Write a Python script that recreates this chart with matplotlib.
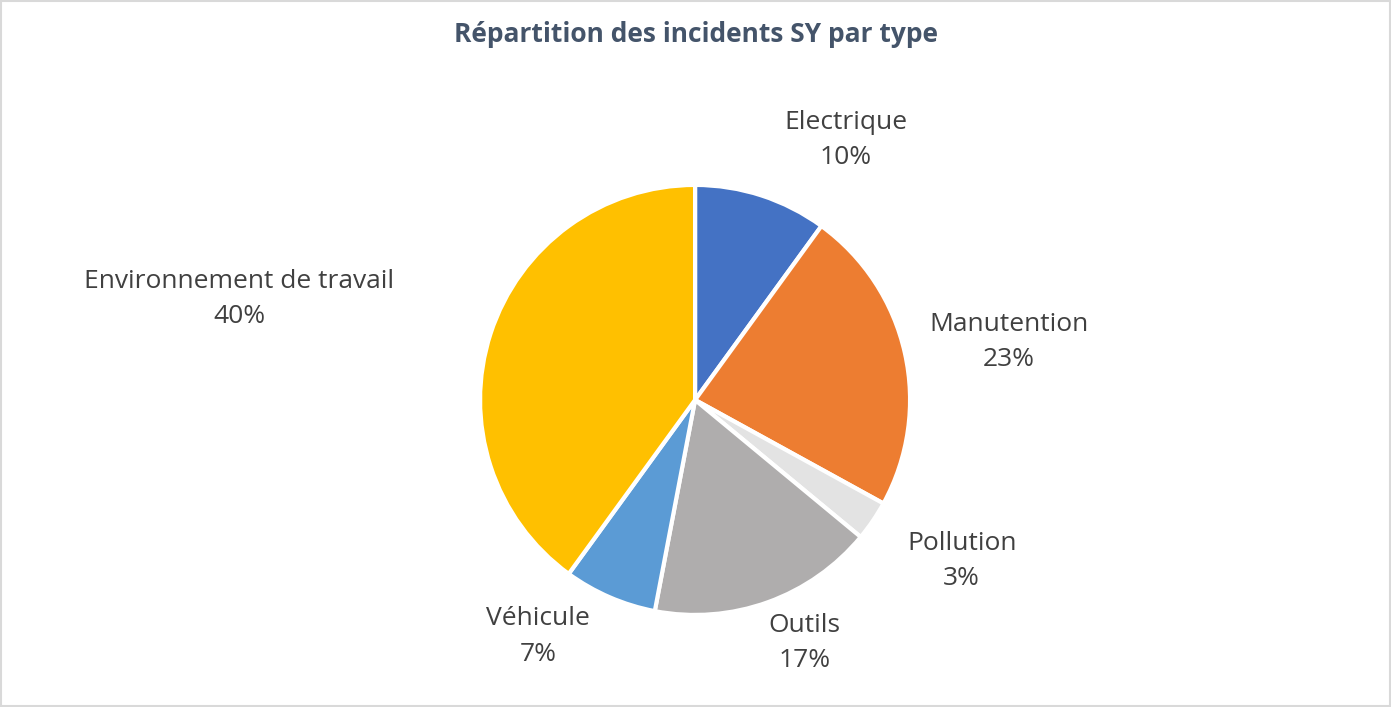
import matplotlib
matplotlib.use("Agg")
import matplotlib.pyplot as plt
import numpy as np

categories = ["Electrique", "Manutention", "Pollution", "Outils", "Véhicule", "Environnement de travail"]
values = [10, 23, 3, 17, 7, 40]
colors = ["#4472C4", "#ED7D31", "#E3E3E3", "#AFADAD", "#5B9BD5", "#FFC000"]
label_pos = [(0.70, 1.21), (1.46, 0.27), (1.24, -0.75), (0.51, -1.13), (-0.73, -1.10), (-2.12, 0.47)]

fig = plt.figure(figsize=(13.91, 7.07), dpi=100)
ax = fig.add_axes([0, 0, 1, 1])
ax.pie(values, colors=colors, startangle=90, counterclock=False, radius=1.0,
       wedgeprops=dict(edgecolor="white", linewidth=3))
for cat, v, (x, y) in zip(categories, values, label_pos):
    ax.text(x, y, f"{cat}\n{v}%", ha="center", va="center", fontsize=19,
            family="Open Sans", color="#404040", linespacing=1.55)
ax.set_xlim(-3.233, 3.237)
ax.set_ylim(-1.428, 1.860)
ax.set_aspect("equal")
ax.axis("off")
fig.text(0.5, 1 - 35 / 707, "Répartition des incidents SY par type", ha="center", va="center",
         fontsize=19, fontweight="bold", family="Open Sans", color="#44546A")
fig.patches.append(plt.Rectangle((0.001, 0.001), 0.998, 0.998, transform=fig.transFigure,
                                 fill=False, edgecolor="#D9D9D9", linewidth=1.5))
fig.savefig("out.png", dpi=100)
